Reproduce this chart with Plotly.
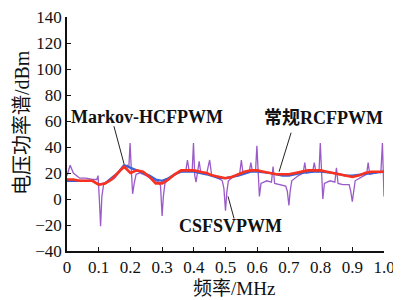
import plotly.graph_objects as go

# Red: 常规RCFPWM (smoothed)
red_f = [0.00,0.02,0.04,0.06,0.08,0.10,0.12,0.14,0.16,0.18,0.20,0.22,0.24,0.26,0.28,0.30,
         0.32,0.34,0.36,0.38,0.40,0.42,0.44,0.46,0.48,0.50,0.52,0.54,0.56,0.58,0.60,0.62,
         0.64,0.66,0.68,0.70,0.72,0.74,0.76,0.78,0.80,0.82,0.84,0.86,0.88,0.90,0.92,0.94,
         0.96,0.98,1.00]
red_v = [15,15,14,14,14,11,12,15,20,25,20,22,21,17,12,12,
         15,19,22,22,22,21,20,18,17,16,17,19,21,22,22,21,
         20,19,19,19,20,21,22,22,22,21,20,19,18,17,18,20,
         21,21,21]

# Blue: Markov-HCFPWM
blue_f = [0.00,0.04,0.08,0.10,0.12,0.14,0.16,0.18,0.20,0.22,0.24,0.26,0.28,0.30,0.32,0.34,
          0.36,0.38,0.40,0.44,0.48,0.50,0.54,0.58,0.60,0.64,0.68,0.70,0.74,0.78,0.80,0.84,
          0.88,0.90,0.94,0.98,1.00]
blue_v = [14,14,14,11,12,16,20,26,24,22,20,18,15,14,16,19,
          21,21,21,19,16,16,18,21,21,20,18,18,20,21,21,20,
          18,18,19,20,21]

# Purple: CSFSVPWM (spiky)
pur_f = [0.000,0.010,0.020,0.040,0.060,0.080,0.094,0.098,0.102,0.106,0.110,0.116,0.130,0.150,
         0.170,0.180,0.190,0.195,0.199,0.203,0.207,0.212,0.218,0.230,0.250,0.270,0.290,0.295,
         0.300,0.304,0.309,0.320,0.350,0.375,0.380,0.385,0.395,0.399,0.403,0.407,0.412,0.417,
         0.422,0.440,0.450,0.456,0.470,0.490,0.495,0.500,0.504,0.509,0.530,0.545,0.550,0.555,
         0.575,0.580,0.585,0.595,0.599,0.603,0.607,0.612,0.630,0.645,0.650,0.655,0.670,0.690,
         0.695,0.700,0.704,0.709,0.730,0.745,0.750,0.755,0.775,0.780,0.785,0.795,0.799,0.803,
         0.807,0.812,0.830,0.845,0.850,0.855,0.870,0.890,0.895,0.900,0.904,0.909,0.930,0.945,
         0.950,0.955,0.975,0.985,0.990,0.995,1.000]
pur_v = [18,26,20,16,16,15,15,18,0,-21,2,12,13,16,
         22,24,26,24,43,22,4,12,19,20,18,15,13,10,
         -13,2,12,15,20,22,30,22,22,43,18,13,22,29,
         20,19,30,19,17,14,8,-9,5,14,18,20,30,20,
         21,28,21,22,41,16,2,12,14,13,25,12,11,10,
         6,-5,6,14,18,20,28,20,21,28,21,21,43,15,
         0,12,14,13,24,12,11,11,6,-2,6,14,17,19,
         28,19,20,21,20,43,2]

x_ticks = [0,0.1,0.2,0.3,0.4,0.5,0.6,0.7,0.8,0.9,1.0]
x_ticklabels = ["0","0.1","0.2","0.3","0.4","0.5","0.6","0.7","0.8","0.9","1.0"]
y_ticks = [-40,-20,0,20,40,60,80,100,120,140]

FONT = "Liberation Serif, Times New Roman, Noto Sans CJK SC, serif"

fig = go.Figure()
fig.add_trace(go.Scatter(x=pur_f, y=pur_v, mode="lines",
                         line=dict(color="#9a5bc8", width=1.3), showlegend=False))
fig.add_trace(go.Scatter(x=blue_f, y=blue_v, mode="lines",
                         line=dict(color="#3a62d6", width=2.2), showlegend=False))
fig.add_trace(go.Scatter(x=red_f, y=red_v, mode="lines",
                         line=dict(color="#f8321e", width=2.6), showlegend=False))

# label texts and leader lines
labels = [
    ("<b>Markov-HCFPWM</b>", 0.252, 63, (0.148, 56, 0.18, 27)),
    ("<b>常规RCFPWM</b>", 0.808, 62, (0.707, 51, 0.669, 21)),
    ("<b>CSFSVPWM</b>", 0.517, -21, (0.508, 2, 0.527, -15)),
]
for txt, tx, ty, (x0, y0, x1, y1) in labels:
    fig.add_annotation(text=txt, x=tx, y=ty, xref="x", yref="y", showarrow=False,
                       xanchor="center", yanchor="middle",
                       font=dict(family=FONT, size=18, color="#111"))
    fig.add_shape(type="line", x0=x0, y0=y0, x1=x1, y1=y1, xref="x", yref="y",
                  line=dict(color="#222", width=1))

# axis titles
fig.add_annotation(text="电压功率谱/dBm", x=-0.142, y=0.551, xref="paper", yref="paper",
                   textangle=-90, showarrow=False, xanchor="center", yanchor="middle",
                   font=dict(family=FONT, size=20, color="#111"))
fig.add_annotation(text="频率/MHz", x=0.527, y=-0.162, xref="paper", yref="paper",
                   showarrow=False, xanchor="center", yanchor="middle",
                   font=dict(family=FONT, size=19, color="#111"))

# page body has an 8px default margin, so the figure is sized to fit the 401x300 window
fig.update_layout(
    width=393, height=292,
    margin=dict(l=59, r=17, t=9, b=49),
    paper_bgcolor="white", plot_bgcolor="white",
    font=dict(family=FONT, size=17, color="#111"),
    xaxis=dict(range=[0, 1.0], tickvals=x_ticks, ticktext=x_ticklabels,
               ticks="inside", ticklen=4, tickwidth=1.3, tickcolor="#111",
               showline=True, linecolor="#111", linewidth=1.5, showgrid=False,
               zeroline=False, automargin=False, ticklabeloverflow="allow"),
    yaxis=dict(range=[-40, 140], tickvals=y_ticks,
               ticks="inside", ticklen=4, tickwidth=1.3, tickcolor="#111",
               showline=True, linecolor="#111", linewidth=1.5, showgrid=False,
               zeroline=False, automargin=False, ticklabeloverflow="allow"),
)

fig.write_html("out.html")
